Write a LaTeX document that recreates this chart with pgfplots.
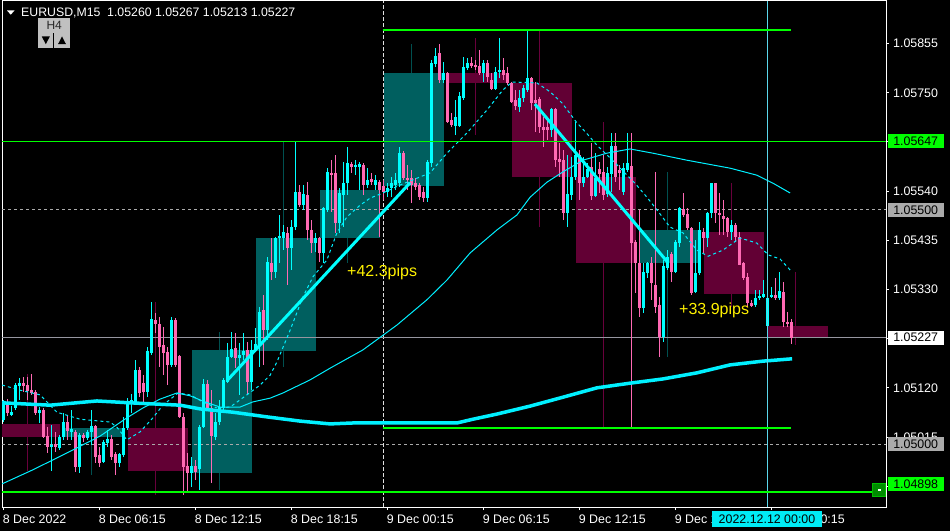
\documentclass[border=0pt]{standalone}
\usepackage{fontspec}
\setmainfont{Liberation Sans}
\usepackage{pgfplots}
\pgfplotsset{compat=1.18}
\usepackage{pgfplotstable}
\usetikzlibrary{backgrounds}

\definecolor{bull}{RGB}{0,255,255}
\definecolor{bear}{RGB}{255,105,180}
\definecolor{hbull}{RGB}{0,95,95}
\definecolor{hbear}{RGB}{98,0,52}
\definecolor{hbullw}{RGB}{0,80,80}
\definecolor{hbearw}{RGB}{105,0,60}
\definecolor{mac}{RGB}{0,240,255}
\definecolor{lgreen}{RGB}{0,255,0}
\definecolor{dgray}{RGB}{170,170,170}
\definecolor{bidgray}{RGB}{150,150,160}
\definecolor{cross}{RGB}{90,215,235}
\definecolor{btn}{RGB}{192,192,192}
\definecolor{tbox}{RGB}{0,235,245}

\pgfplotsset{
  cndl/.style 2 args={draw=none, mark=none,
    error bars/.cd, y dir=both, y explicit, error mark=none,
    error bar style={draw=#1, line width=#2, line cap=butt, solid}},
}

\pgfplotstableread{
i o h l c
0 1.05051 1.05094 1.05047 1.05088
1 1.05085 1.05096 1.05060 1.05066
2 1.05062 1.05081 1.05060 1.05068
3 1.05077 1.05130 1.05073 1.05126
4 1.05124 1.05141 1.05094 1.05130
5 1.05130 1.05143 1.05111 1.05124
6 1.05126 1.05143 1.05094 1.05113
7 1.05115 1.05149 1.05105 1.05109
8 1.05111 1.05115 1.05062 1.05066
9 1.05066 1.05079 1.05045 1.05073
10 1.05073 1.05077 1.05013 1.05015
11 1.05017 1.05036 1.04981 1.04994
12 1.04994 1.05040 1.04943 1.04998
13 1.05000 1.05026 1.04983 1.04994
14 1.04992 1.05019 1.04987 1.05015
15 1.05015 1.05066 1.05009 1.05047
16 1.05047 1.05062 1.05009 1.05028
17 1.05026 1.05073 1.05009 1.05032
18 1.05026 1.05030 1.04941 1.04951
19 1.04951 1.05024 1.04939 1.05019
20 1.05019 1.05024 1.05004 1.05013
21 1.05013 1.05030 1.05009 1.05026
22 1.05026 1.05073 1.04998 1.05038
23 1.05038 1.05040 1.04960 1.04972
24 1.04977 1.04994 1.04951 1.04960
25 1.04962 1.05009 1.04960 1.05004
26 1.05002 1.05030 1.04994 1.05011
27 1.05011 1.05019 1.04966 1.04972
28 1.04979 1.04983 1.04934 1.04960
29 1.04960 1.04981 1.04951 1.04979
30 1.04977 1.05058 1.04972 1.05034
31 1.05034 1.05098 1.05030 1.05090
32 1.05088 1.05107 1.05066 1.05094
33 1.05090 1.05179 1.05088 1.05158
34 1.05158 1.05164 1.05101 1.05109
35 1.05130 1.05147 1.05090 1.05111
36 1.05111 1.05207 1.05101 1.05199
37 1.05194 1.05304 1.05190 1.05267
38 1.05265 1.05280 1.05237 1.05257
39 1.05257 1.05272 1.05164 1.05207
40 1.05211 1.05250 1.05147 1.05194
41 1.05196 1.05207 1.05126 1.05169
42 1.05169 1.05272 1.05164 1.05265
43 1.05265 1.05269 1.05164 1.05169
44 1.05188 1.05190 1.05056 1.05058
45 1.05058 1.05066 1.04891 1.04951
46 1.04953 1.04981 1.04896 1.04938
47 1.04938 1.04972 1.04908 1.04953
48 1.04953 1.04966 1.04923 1.04941
49 1.04947 1.05040 1.04902 1.05036
50 1.05036 1.05139 1.05034 1.05128
51 1.05128 1.05137 1.05073 1.05077
52 1.05077 1.05115 1.04917 1.05017
53 1.05015 1.05066 1.05009 1.05047
54 1.05047 1.05094 1.05040 1.05079
55 1.05077 1.05141 1.05073 1.05137
56 1.05132 1.05216 1.05130 1.05186
57 1.05186 1.05239 1.05184 1.05203
58 1.05205 1.05237 1.05162 1.05184
59 1.05184 1.05216 1.05105 1.05190
60 1.05190 1.05237 1.05179 1.05199
61 1.05201 1.05218 1.05105 1.05132
62 1.05132 1.05222 1.05115 1.05201
63 1.05199 1.05248 1.05196 1.05214
64 1.05211 1.05293 1.05164 1.05282
65 1.05286 1.05318 1.05169 1.05243
66 1.05243 1.05399 1.05222 1.05389
67 1.05387 1.05440 1.05350 1.05367
68 1.05367 1.05442 1.05355 1.05440
69 1.05440 1.05489 1.05387 1.05444
70 1.05440 1.05468 1.05414 1.05453
71 1.05451 1.05463 1.05340 1.05419
72 1.05419 1.05478 1.05372 1.05463
73 1.05463 1.05645 1.05457 1.05538
74 1.05538 1.05553 1.05506 1.05510
75 1.05510 1.05553 1.05500 1.05534
76 1.05532 1.05560 1.05436 1.05457
77 1.05457 1.05478 1.05408 1.05429
78 1.05429 1.05451 1.05410 1.05440
79 1.05440 1.05442 1.05389 1.05408
80 1.05408 1.05506 1.05387 1.05504
81 1.05500 1.05589 1.05495 1.05581
82 1.05579 1.05606 1.05495 1.05574
83 1.05579 1.05617 1.05451 1.05472
84 1.05472 1.05547 1.05451 1.05536
85 1.05532 1.05602 1.05463 1.05557
86 1.05557 1.05634 1.05532 1.05600
87 1.05598 1.05602 1.05579 1.05591
88 1.05591 1.05606 1.05574 1.05596
89 1.05591 1.05602 1.05542 1.05598
90 1.05596 1.05600 1.05532 1.05553
91 1.05553 1.05589 1.05547 1.05564
92 1.05566 1.05579 1.05553 1.05560
93 1.05553 1.05574 1.05542 1.05564
94 1.05560 1.05564 1.05442 1.05542
95 1.05551 1.05564 1.05521 1.05538
96 1.05538 1.05557 1.05527 1.05547
97 1.05547 1.05570 1.05527 1.05557
98 1.05553 1.05579 1.05542 1.05564
99 1.05557 1.05634 1.05549 1.05621
100 1.05621 1.05626 1.05564 1.05568
101 1.05568 1.05596 1.05542 1.05564
102 1.05568 1.05585 1.05515 1.05553
103 1.05557 1.05568 1.05542 1.05549
104 1.05553 1.05557 1.05521 1.05527
105 1.05538 1.05549 1.05517 1.05525
106 1.05525 1.05606 1.05517 1.05602
107 1.05600 1.05820 1.05591 1.05813
108 1.05811 1.05846 1.05805 1.05828
109 1.05835 1.05854 1.05771 1.05777
110 1.05777 1.05816 1.05771 1.05792
111 1.05792 1.05794 1.05685 1.05688
112 1.05692 1.05707 1.05677 1.05681
113 1.05679 1.05735 1.05660 1.05698
114 1.05679 1.05752 1.05677 1.05743
115 1.05739 1.05826 1.05735 1.05805
116 1.05803 1.05824 1.05799 1.05813
117 1.05813 1.05826 1.05803 1.05807
118 1.05809 1.05820 1.05799 1.05805
119 1.05807 1.05841 1.05788 1.05792
120 1.05792 1.05820 1.05773 1.05813
121 1.05813 1.05820 1.05773 1.05784
122 1.05777 1.05792 1.05756 1.05758
123 1.05758 1.05805 1.05756 1.05794
124 1.05794 1.05867 1.05781 1.05799
125 1.05799 1.05824 1.05777 1.05788
126 1.05792 1.05805 1.05767 1.05771
127 1.05771 1.05773 1.05728 1.05730
128 1.05735 1.05756 1.05713 1.05722
129 1.05720 1.05756 1.05709 1.05739
130 1.05739 1.05767 1.05730 1.05760
131 1.05756 1.05884 1.05752 1.05781
132 1.05781 1.05784 1.05713 1.05728
133 1.05735 1.05773 1.05666 1.05728
134 1.05737 1.05741 1.05664 1.05677
135 1.05677 1.05698 1.05634 1.05670
136 1.05677 1.05692 1.05649 1.05670
137 1.05670 1.05717 1.05655 1.05715
138 1.05715 1.05717 1.05591 1.05606
139 1.05608 1.05643 1.05570 1.05602
140 1.05606 1.05628 1.05478 1.05493
141 1.05493 1.05617 1.05463 1.05534
142 1.05532 1.05613 1.05521 1.05570
143 1.05570 1.05688 1.05564 1.05617
144 1.05617 1.05628 1.05521 1.05557
145 1.05557 1.05613 1.05549 1.05570
146 1.05570 1.05600 1.05568 1.05587
147 1.05591 1.05643 1.05521 1.05530
148 1.05530 1.05621 1.05527 1.05568
149 1.05587 1.05602 1.05536 1.05577
150 1.05581 1.05617 1.05521 1.05532
151 1.05534 1.05591 1.05527 1.05579
152 1.05577 1.05664 1.05538 1.05636
153 1.05636 1.05664 1.05559 1.05570
154 1.05585 1.05596 1.05542 1.05579
155 1.05538 1.05600 1.05532 1.05589
156 1.05585 1.05664 1.05581 1.05600
157 1.05594 1.05664 1.05034 1.05429
158 1.05431 1.05436 1.05322 1.05387
159 1.05387 1.05500 1.05271 1.05290
160 1.05290 1.05387 1.05280 1.05367
161 1.05365 1.05389 1.05355 1.05387
162 1.05387 1.05399 1.05308 1.05344
163 1.05340 1.05581 1.05280 1.05293
164 1.05297 1.05314 1.05186 1.05229
165 1.05229 1.05393 1.05218 1.05380
166 1.05376 1.05414 1.05372 1.05399
167 1.05406 1.05410 1.05346 1.05367
168 1.05367 1.05436 1.05365 1.05431
169 1.05429 1.05506 1.05421 1.05504
170 1.05502 1.05536 1.05485 1.05489
171 1.05491 1.05504 1.05457 1.05461
172 1.05461 1.05463 1.05318 1.05322
173 1.05325 1.05436 1.05322 1.05365
174 1.05365 1.05474 1.05361 1.05457
175 1.05453 1.05461 1.05408 1.05440
176 1.05440 1.05495 1.05421 1.05493
177 1.05493 1.05557 1.05483 1.05557
178 1.05557 1.05557 1.05472 1.05493
179 1.05493 1.05536 1.05446 1.05489
180 1.05487 1.05521 1.05446 1.05480
181 1.05483 1.05485 1.05442 1.05453
182 1.05453 1.05478 1.05436 1.05468
183 1.05468 1.05472 1.05431 1.05442
184 1.05442 1.05453 1.05382 1.05382
185 1.05387 1.05389 1.05350 1.05355
186 1.05357 1.05365 1.05293 1.05301
187 1.05301 1.05308 1.05293 1.05295
188 1.05297 1.05329 1.05293 1.05312
189 1.05312 1.05329 1.05308 1.05316
190 1.05314 1.05350 1.05312 1.05320
191 1.05252 1.05316 1.05252 1.05312
192 1.05314 1.05335 1.05312 1.05318
193 1.05318 1.05354 1.05308 1.05312
194 1.05312 1.05367 1.05308 1.05327
195 1.05325 1.05346 1.05250 1.05261
196 1.05261 1.05282 1.05250 1.05256
197 1.05260 1.05267 1.05213 1.05227
}\candles

% H4 candles: xb = box centre (bar units), xw = wick position
\pgfplotstableread{
xb xw o h l c
6.5 6 1.05043 1.05149 1.04942 1.05015
22.5 22 1.05015 1.05073 1.04934 1.05034
38.5 38 1.05034 1.05304 1.04891 1.04942
54.5 54 1.04938 1.05239 1.04902 1.05201
70.5 70 1.05199 1.05645 1.05164 1.05440
86.5 86 1.05440 1.05634 1.05387 1.05542
102.5 102 1.05551 1.05854 1.05517 1.05792
118.5 118 1.05792 1.05867 1.05660 1.05771
134.5 134 1.05771 1.05884 1.05463 1.05570
150.5 150 1.05570 1.05688 1.05034 1.05387
166.5 166 1.05387 1.05581 1.05186 1.05457
182.5 182 1.05453 1.05557 1.05293 1.05320
198.5 198 1.05252 1.05367 1.05212 1.05227
}\hfour

\begin{document}
\begin{tikzpicture}[x=1pt,y=1pt]
\begin{axis}[
  name=ax, at={(0,0)}, anchor=south west, scale only axis,
  width=884pt, height=506pt,
  xmin=-0.425, xmax=220.575, ymin=1.048656, ymax=1.059459,
  axis background/.style={fill=black},
  axis line style={white, line width=1pt},
  tick style={white, line width=1pt},
  tick align=outside, major tick length=3pt,
  xtick pos=bottom, ytick pos=right, yticklabel pos=right,
  xtick={0,24,48,72,96,120,144,168,192},
  xticklabels={8 Dec 2022,8 Dec 06:15,8 Dec 12:15,8 Dec 18:15,9 Dec 00:15,9 Dec 06:15,9 Dec 12:15,9 Dec 18:15,12 Dec 00:15},
  ytick={1.04910,1.05015,1.05120,1.05225,1.05330,1.05435,1.05540,1.05645,1.05750,1.05855},
  yticklabels={1.04910,1.05015,1.05120,,1.05330,1.05435,1.05540,,1.05750,1.05855},
  every tick label/.append style={font=\fontsize{12.4}{14}\selectfont, text=white},
  xticklabel style={anchor=north west, inner sep=0pt, xshift=-1pt, yshift=-4.5pt},
  yticklabel style={anchor=west, inner sep=0pt, xshift=4pt},
]
\coordinate (SW) at (rel axis cs:0,0);
% H4 wicks
\addplot[restrict expr to domain={\thisrow{c}-\thisrow{o}}{0:1}, cndl={hbullw}{1pt}]
  table[x=xw, y expr={0.5*(\thisrow{h}+\thisrow{l})}, y error expr={0.5*(\thisrow{h}-\thisrow{l})}] {\hfour};
\addplot[restrict expr to domain={\thisrow{c}-\thisrow{o}}{-1:-0.000001}, cndl={hbearw}{1pt}]
  table[x=xw, y expr={0.5*(\thisrow{h}+\thisrow{l})}, y error expr={0.5*(\thisrow{h}-\thisrow{l})}] {\hfour};
% H4 bodies
\addplot[restrict expr to domain={\thisrow{c}-\thisrow{o}}{0:1}, cndl={hbull}{60pt}]
  table[x=xb, y expr={0.5*(\thisrow{o}+\thisrow{c})}, y error expr={max(0.5*abs(\thisrow{c}-\thisrow{o}),0.00001)}] {\hfour};
\addplot[restrict expr to domain={\thisrow{c}-\thisrow{o}}{-1:-0.000001}, cndl={hbear}{60pt}]
  table[x=xb, y expr={0.5*(\thisrow{o}+\thisrow{c})}, y error expr={max(0.5*abs(\thisrow{c}-\thisrow{o}),0.00001)}] {\hfour};
% separator and level lines
\addplot[white!88!black, line width=1pt, dash pattern=on 4pt off 2pt] coordinates {(95,1.048656) (95,1.059459)};
\addplot[dgray, line width=1pt, dash pattern=on 3pt off 3pt] coordinates {(-0.425,1.05500) (220.575,1.05500)};
\addplot[dgray, line width=1pt, dash pattern=on 3pt off 3pt] coordinates {(-0.425,1.05000) (220.575,1.05000)};
\addplot[bidgray, line width=1pt] coordinates {(-0.425,1.05227) (220.575,1.05227)};
% M15 candles
\addplot[restrict expr to domain={\thisrow{c}-\thisrow{o}}{0:1}, cndl={bull}{1pt}]
  table[x=i, y expr={0.5*(\thisrow{h}+\thisrow{l})}, y error expr={0.5*(\thisrow{h}-\thisrow{l})}] {\candles};
\addplot[restrict expr to domain={\thisrow{c}-\thisrow{o}}{-1:-0.000001}, cndl={bear}{1pt}]
  table[x=i, y expr={0.5*(\thisrow{h}+\thisrow{l})}, y error expr={0.5*(\thisrow{h}-\thisrow{l})}] {\candles};
\addplot[restrict expr to domain={\thisrow{c}-\thisrow{o}}{0:1}, cndl={bull}{3pt}]
  table[x=i, y expr={0.5*(\thisrow{o}+\thisrow{c})}, y error expr={max(0.5*abs(\thisrow{c}-\thisrow{o}),0.000012)}] {\candles};
\addplot[restrict expr to domain={\thisrow{c}-\thisrow{o}}{-1:-0.000001}, cndl={bear}{3pt}]
  table[x=i, y expr={0.5*(\thisrow{o}+\thisrow{c})}, y error expr={max(0.5*abs(\thisrow{c}-\thisrow{o}),0.000012)}] {\candles};
% moving averages
\addplot[mac, line width=1pt] coordinates {(-0.4,1.04915) (7.3,1.04945) (15.8,1.04981) (24.1,1.05017) (30.8,1.05056) (34.8,1.05077) (39.1,1.05096) (43.3,1.05109) (46.6,1.05103) (50.3,1.05090) (54.1,1.05079) (59.1,1.05079) (62.3,1.05090) (66.6,1.05098) (69.8,1.05109) (76.6,1.05137) (81.6,1.05162) (89.8,1.05201) (98.3,1.05254) (105.8,1.05308) (110.8,1.05350) (116.6,1.05408) (123.3,1.05457) (128.3,1.05489) (131.6,1.05527) (135.8,1.05559) (139.8,1.05581) (144.8,1.05606) (150.8,1.05621) (156.6,1.05630) (162.3,1.05621) (170.8,1.05606) (181.6,1.05589) (188.3,1.05574) (192.3,1.05557) (196.6,1.05536)};
\addplot[mac, line width=1pt, dash pattern=on 3pt off 3pt] coordinates {(-0.4,1.05126) (4.1,1.05115) (9.1,1.05105) (13.3,1.05068) (19.1,1.05053) (26.6,1.05047) (28.3,1.05036) (30.8,1.05009) (34.1,1.05026) (37.3,1.05056) (39.8,1.05083) (43.6,1.05109) (46.6,1.05105) (49.8,1.05090) (53.3,1.05077) (56.6,1.05079) (60.8,1.05105) (64.1,1.05126) (66.6,1.05147) (68.3,1.05175) (71.6,1.05243) (74.8,1.05314) (77.3,1.05357) (80.8,1.05393) (83.3,1.05451) (85.8,1.05485) (89.1,1.05510) (91.6,1.05525) (94.8,1.05536) (99.1,1.05553) (102.3,1.05564) (106.6,1.05579) (110.8,1.05621) (115.8,1.05664) (120.8,1.05713) (124.8,1.05756) (127.1,1.05773) (133.3,1.05771) (136.6,1.05752) (139.6,1.05728) (143.1,1.05688) (146.1,1.05660) (148.3,1.05638) (151.6,1.05611) (157.8,1.05557) (160.8,1.05527) (163.3,1.05500) (166.6,1.05463) (169.8,1.05451) (173.3,1.05414) (176.1,1.05401) (179.8,1.05414) (184.1,1.05440) (188.3,1.05429) (191.1,1.05404) (194.1,1.05395) (197.1,1.05367)};
\addplot[mac, line width=3.5pt] coordinates {(-0.4,1.05088) (11.6,1.05083) (23.3,1.05092) (31.6,1.05088) (44.1,1.05083) (49.1,1.05075) (57.3,1.05068) (65.8,1.05058) (74.1,1.05049) (81.6,1.05043) (87.3,1.05045) (96.6,1.05045) (105.8,1.05045) (113.3,1.05045) (117.3,1.05053) (123.3,1.05064) (131.6,1.05081) (139.8,1.05100) (148.3,1.05120) (156.6,1.05130) (164.8,1.05139) (173.3,1.05152) (181.6,1.05169) (189.8,1.05177) (197.1,1.05182)};
% swing lines
\addplot[bull, line width=3pt] coordinates {(55.8,1.05135) (101.6,1.05558)};
\addplot[bull, line width=3pt] coordinates {(132.8,1.05726) (166.1,1.05387)};
% crosshair and price lines
\addplot[cross, line width=1pt] coordinates {(191,1.048656) (191,1.059459)};
\addplot[lgreen, line width=1pt] coordinates {(-0.425,1.05647) (220.575,1.05647)};
\addplot[lgreen, line width=2pt] coordinates {(-0.425,1.04898) (220.575,1.04898)};
\addplot[lgreen, line width=2pt] coordinates {(94.8,1.05884) (196.8,1.05884)};
\addplot[lgreen, line width=2pt] coordinates {(94.8,1.05034) (196.8,1.05034)};
\coordinate (pA) at (axis cs:220.575,1.05647);
\coordinate (pB) at (axis cs:220.575,1.05500);
\coordinate (pC) at (axis cs:220.575,1.05227);
\coordinate (pD) at (axis cs:220.575,1.05000);
\coordinate (pE) at (axis cs:220.575,1.04898);
\end{axis}
\tikzset{plab/.style={anchor=west, inner sep=0pt, minimum width=55.6pt, minimum height=14pt, text=black, font=\fontsize{12.4}{14}\selectfont}}
\node[plab, fill=lgreen] at ([xshift=1.7pt]pA) {1.05647};
\node[plab, fill=dgray] at ([xshift=1.7pt]pB) {1.05500};
\node[plab, fill=white] at ([xshift=1.7pt]pC) {1.05227};
\node[plab, fill=dgray] at ([xshift=1.7pt]pD) {1.05000};
\node[plab, fill=lgreen] at ([xshift=1.7pt,yshift=8pt]pE) {1.04898};
\begin{scope}[shift={(SW)}, xshift=-2pt, yshift=-24pt]
\begin{scope}[on background layer]
\fill[black] (0,0) rectangle (950,531);
\end{scope}
% small object button
\draw[fill=green!55!black, draw=green!75!black, line width=0.8pt] (872.4,34.2) rectangle (885.4,47.8);
\fill[white] (877.5,40.2) rectangle (880.5,41.6);
% header
\fill[white] (7,520.5) -- (14.5,520.5) -- (10.75,516.3) -- cycle;
\node[anchor=base west, inner sep=0pt, text=white, font=\fontsize{12.3}{14}\selectfont] at (21,514.5) {EURUSD,M15\hspace{0.55em}1.05260 1.05267 1.05213 1.05227};
\fill[btn] (38.3,498.3) rectangle (70,512.7);
\node[text=black!85, inner sep=0pt, font=\fontsize{12}{12}\selectfont] at (54.2,505.5) {H4};
\fill[btn] (38.3,483.3) rectangle (53.3,497.7);
\fill[btn] (54,483.3) rectangle (70,497.7);
\fill[black] (41.8,494.5) -- (49.8,494.5) -- (45.8,486.8) -- cycle;
\fill[black] (58,486.8) -- (66,486.8) -- (62,494.5) -- cycle;
% annotations
\node[anchor=base west, inner sep=0pt, text=yellow, font=\fontsize{16}{16}\selectfont] at (347,255) {+42.3pips};
\node[anchor=base west, inner sep=0pt, text=yellow, font=\fontsize{16}{16}\selectfont] at (679,217) {+33.9pips};
% time label of the crosshair
\node[fill=tbox, text=black, inner sep=0pt, minimum width=109.5pt, minimum height=15.5pt, font=\fontsize{12.4}{14}\selectfont] at (767,12) {2022.12.12 00:00};
\end{scope}
\pgfresetboundingbox
\path[use as bounding box] ([shift={(-2pt,-24pt)}]SW) rectangle ([shift={(948pt,507pt)}]SW);
\end{tikzpicture}
\end{document}
